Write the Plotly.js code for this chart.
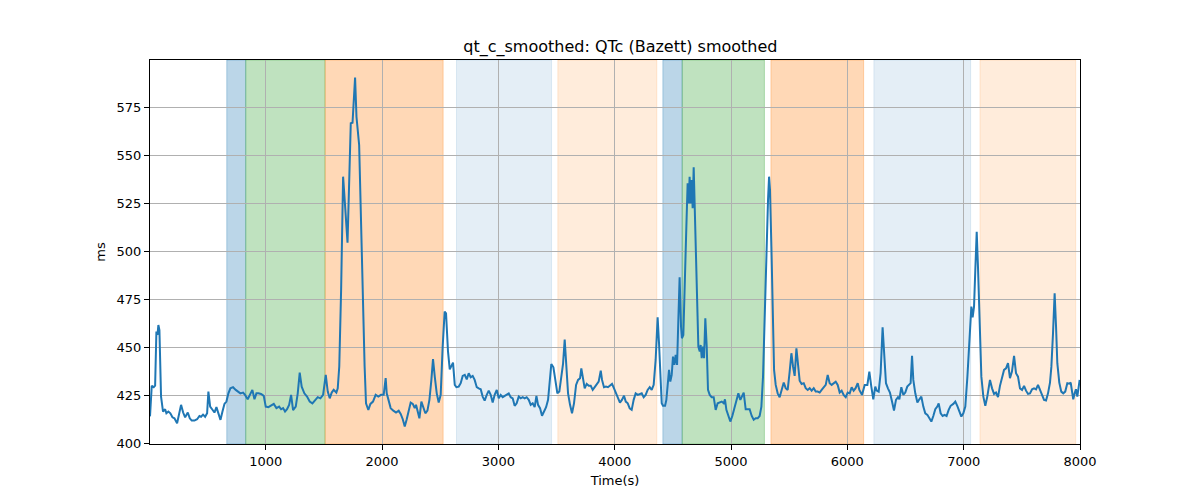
<!DOCTYPE html>
<html>
<head>
<meta charset="utf-8">
<script src="https://cdn.plot.ly/plotly-3.0.1.min.js"></script>
<style>html,body{margin:0;padding:0;background:#fff;}#chart{width:1200px;height:500px;}</style>
</head>
<body>
<div id="chart"></div>
<script>
// ---- data ----
const timeS = [5, 20, 37, 49, 60, 69, 77, 86, 100, 117, 135, 146, 163, 180, 198, 215, 238, 255, 272, 290, 307, 330, 347, 364, 387, 410, 430, 444, 461, 479, 496, 507, 522, 539, 559, 576, 593, 611, 628, 645, 662, 679, 696, 719, 742, 759, 782, 805, 822, 845, 862, 885, 903, 920, 937, 960, 983, 1000, 1023, 1046, 1069, 1092, 1115, 1132, 1149, 1166, 1183, 1201, 1218, 1235, 1258, 1275, 1292, 1309, 1332, 1355, 1378, 1401, 1424, 1447, 1470, 1493, 1516, 1533, 1550, 1567, 1584, 1607, 1619, 1632, 1648, 1665, 1684, 1703, 1731, 1746, 1768, 1780, 1803, 1823, 1837, 1850, 1862, 1882, 1900, 1922, 1945, 1968, 1991, 2014, 2031,
 2040, 2057, 2074, 2097, 2120, 2143, 2160, 2178, 2195, 2212, 2229, 2246, 2264, 2281, 2292, 2304, 2321, 2338, 2355, 2372, 2390, 2407, 2424, 2438, 2453, 2470, 2487, 2504, 2521, 2538, 2550, 2567, 2582, 2596, 2610, 2625, 2639, 2659, 2676, 2693, 2711, 2728, 2745, 2762, 2779, 2796, 2814, 2831, 2848, 2865, 2882, 2900, 2917, 2934, 2951, 2968, 2986, 3003, 3020, 3037, 3054, 3072, 3089, 3106, 3123, 3140, 3157, 3175, 3192, 3209, 3226, 3243, 3261, 3278, 3295, 3312, 3327, 3341, 3358, 3375, 3392, 3410, 3427, 3444, 3455, 3473, 3490, 3507, 3524, 3541, 3556, 3570, 3585, 3599, 3616, 3633, 3650, 3668, 3685, 3702, 3713, 3728, 3742, 3759, 3777, 3794, 3811, 3828, 3845, 3862, 3880, 3891, 3908, 3925, 3942, 3959, 3977, 3994, 4011, 4028, 4045, 4062, 4080,
 4095, 4112, 4129, 4146, 4163, 4180, 4198, 4215, 4232, 4249, 4266, 4283, 4301, 4318, 4335, 4352, 4369, 4381, 4392, 4404, 4415, 4433, 4444, 4455, 4467, 4478, 4490, 4501, 4513, 4524, 4536, 4547, 4558, 4570, 4578, 4590, 4602, 4616, 4627, 4636, 4644, 4653, 4662, 4670, 4679, 4688, 4696, 4708, 4719, 4731, 4739, 4748, 4759, 4768, 4779, 4791, 4802, 4817, 4834, 4851, 4868, 4885, 4903, 4920, 4937, 4948, 4960, 4977, 4994, 5011, 5029, 5046, 5063, 5080, 5095, 5109, 5126, 5143, 5160, 5178, 5195, 5212, 5229, 5246, 5261, 5275, 5289, 5304, 5318, 5327, 5335, 5347, 5358, 5370, 5384, 5401, 5418, 5436, 5453, 5470, 5487, 5504, 5519, 5533, 5547, 5562, 5576, 5590, 5607, 5625, 5642, 5659, 5676, 5693, 5711, 5728, 5745, 5762, 5779, 5797, 5814, 5831, 5848, 5865, 5882, 5900, 5917, 5934, 5951, 5968, 5986, 6003, 6020, 6037, 6054, 6071, 6089,
 6103, 6126, 6149, 6172, 6189, 6206, 6223, 6240, 6252, 6269, 6286, 6303, 6315, 6332, 6349, 6366, 6384, 6401, 6418, 6435, 6447, 6464, 6481, 6498, 6515, 6533, 6544, 6556, 6567, 6584, 6602, 6619, 6636, 6653, 6670, 6688, 6705, 6722, 6739, 6756, 6773, 6785, 6802, 6819, 6836, 6853, 6871, 6888, 6911, 6928, 6945, 6963, 6980, 6997, 7014, 7032, 7049, 7066, 7077, 7089, 7100, 7112, 7123, 7138, 7152, 7169, 7186, 7203, 7226, 7244, 7261, 7278, 7295, 7312, 7329, 7347, 7364, 7381, 7398, 7415, 7433, 7450, 7467, 7484, 7502, 7519, 7536, 7553, 7570, 7588, 7605, 7622, 7639, 7656, 7674, 7691, 7708, 7725, 7742, 7754, 7768, 7782, 7794, 7805, 7822, 7839, 7856, 7873, 7891, 7908, 7920, 7931, 7942, 7954, 7965, 7977, 7988, 7997];

const qtcMs = [414, 429.9, 429.2, 430, 458.2, 456.4, 461.6, 459, 424.3, 416.5, 417.7, 415.6, 416.5, 415.6, 413.5, 413, 410.4, 414.8, 420, 416, 413.5, 416, 413, 411.8, 411.8, 412.5, 414.2, 413.8, 414.9, 413.8, 415.6, 426.9, 419.1, 417.7, 416, 418.8, 415.6, 412.2, 416.5, 420.5, 421.7, 426, 428.6, 429.2, 427.8, 426.9, 426, 426.4, 425.2, 422.9, 425.2, 427.8, 422.9, 426, 426, 425.7, 424.7, 419.1, 418.8, 419.5, 420.5, 418.3, 419.1, 417.7, 418.3, 416.5, 417.7, 420, 425.2, 417.3, 419.1, 426, 436.8, 429.5, 426, 424.3, 421.7, 420.8, 422.6, 424, 423.4, 425.2, 435.6, 426.9, 423.4, 426.4, 427.8, 426.4, 428.6, 440, 480, 538.9, 522, 504.5, 566.7, 567, 590.6, 570.1, 555.4, 500.7, 474.6, 440, 420.8, 417.3, 420.5, 421.7, 425.2, 424.3, 425.2, 425.2, 433.9,
 426, 422.2, 418.3, 417, 416, 417, 415.3, 412.5, 408.7, 412.5, 416.5, 421.2, 420.5, 418.3, 420, 417.3, 413, 421.7, 418.3, 415.6, 417, 422.6, 433, 443.8, 434.7, 426, 421.2, 425.2, 450.3, 468.6, 467.7, 447.7, 438.5, 439.9, 442, 430.4, 429.2, 429.5, 431.3, 435.1, 435.6, 433.3, 436.5, 434.4, 435.1, 433, 429.2, 428.6, 428.1, 424.3, 422.2, 425.2, 427.4, 425.2, 421.2, 425.2, 427.8, 423.4, 425.2, 424, 424.7, 425.2, 426, 424, 423.4, 419.5, 420.8, 424.3, 423.4, 424, 423.4, 424, 422.6, 420, 420.8, 418.8, 424.7, 420, 418.3, 414.3, 416.5, 418.8, 422.6, 433, 441.3, 439.6, 433, 426, 426.9, 434.7, 441.5, 454, 439.9, 426, 420, 415.6, 420.8, 430.4, 433, 433.9, 439, 433, 428.6, 430.9, 429.9, 429.9, 427.8, 429.2, 430.4, 432.1, 437.8, 433, 429.2, 429.5, 429.2, 429.9, 430.9, 428.6, 426, 423.4, 421.2, 422.6, 424.7,
 421.7, 420.8, 418.2, 417.4, 422.6, 426, 425.2, 425.7, 426, 424, 425.2, 427.8, 429.2, 427.8, 430.4, 443.4, 465.6, 452.1, 433, 420.8, 419.5, 419.5, 422.6, 431.3, 438.2, 432.1, 435.6, 445.1, 440.8, 446, 440.8, 464.2, 486.5, 460.8, 454.7, 456.4, 478.1, 512.9, 535.4, 525, 538.9, 525, 537.2, 522.4, 543.8, 521.5, 499, 474.7, 450.4, 447.8, 451.2, 444.3, 450.4, 444.3, 465.1, 450.4, 427.8, 425.2, 424, 424, 417.4, 420.8, 421.2, 421.7, 420.8, 422.9, 417.4, 414.8, 411.3, 414.2, 418.2, 421.7, 426, 422.6, 424.3, 426.4, 417.7, 417.7, 417.7, 414.2, 412.2, 413, 413, 414.2, 419.1, 434.7, 464.2, 505.9, 526.7, 538.9, 532, 502.4, 467.7, 438.2, 430.4, 426, 424, 427.8, 431.6, 428.7, 427.8, 437.3, 446.9, 439.9, 435.1, 449.5, 439, 432.6, 430.9, 431.3, 428.7, 427.8, 428.7, 427.4, 428.7, 426.9, 426.9, 426.4, 427.8, 429.5, 430.4, 435.6, 431.3, 430.4, 431.3, 432.1, 430.4, 426.4, 427.4, 425.2, 424, 426.4, 426, 429.2, 427.4, 428.7, 431.3,
 427.8, 425.2, 430.4, 430.4, 437.3, 429.5, 422.9, 429.5, 427.4, 426.9, 436.5, 460.4, 446.9, 431.3, 428.6, 426.4, 421.7, 417, 422.6, 424, 422.9, 429.2, 425.2, 426.4, 429.5, 430.4, 431.3, 445.5, 433, 426, 421.2, 422.9, 424.3, 419.1, 415.6, 414.8, 413, 411.3, 414.2, 417.7, 419.1, 420.8, 415.6, 414.2, 414.8, 414.2, 417.4, 419.5, 420.5, 421.7, 419.5, 417, 413.9, 415.6, 419.1, 434.7, 453.8, 471.2, 465.6, 471.2, 490.3, 510.2, 492, 457.3, 434.7, 424.3, 419.5, 424.3, 433, 428.6, 425.7, 426.4, 424, 429.9, 433.9, 438.2, 439, 441.7, 433.9, 437.3, 445.5, 436.5, 434.7, 428.6, 427.8, 429.9, 427.4, 425.7, 426, 428.1, 428.6, 428.1, 430.4, 427.8, 424.3, 422.6, 422.3, 426, 431.6, 439.9, 457.3, 478.1, 460.8, 441.7, 431.6, 426.9, 426, 426.9, 431.3, 431, 431.6, 426, 422.9, 426, 428.1, 424.3, 429.5, 433];

// shaded segments
const segStart = [665, 828, 1510, 2640, 3511, 4414, 4580, 5343, 6228, 7140];
const segEnd   = [828, 1510, 2525, 3457, 4362, 4580, 5287, 6140, 7060, 7963];
const segKind  = ['A', 'B', 'C', 'D', 'E', 'A', 'B', 'C', 'D', 'E'];

const xTicks = [1000, 2000, 3000, 4000, 5000, 6000, 7000, 8000];
const yTicks = [400, 425, 450, 475, 500, 525, 550, 575];

// ---- styles ----
const kindFill = {
  A: 'rgba(31,119,180,0.3)',
  B: 'rgba(44,160,44,0.3)',
  C: 'rgba(255,127,14,0.3)',
  D: 'rgba(31,119,180,0.12)',
  E: 'rgba(255,127,14,0.15)'
};

const shapes = segStart.map((s, i) => ({
  type: 'rect', xref: 'x', yref: 'paper',
  x0: s, x1: segEnd[i], y0: 0, y1: 1,
  fillcolor: kindFill[segKind[i]],
  line: {color: kindFill[segKind[i]], width: 1},
  layer: 'below'
}));

const font = {family: 'DejaVu Sans, sans-serif', color: '#000'};

const trace = {
  x: timeS, y: qtcMs, type: 'scatter', mode: 'lines',
  line: {color: '#1f77b4', width: 2}, hoverinfo: 'skip', showlegend: false
};

const layout = {
  width: 1200, height: 500,
  margin: {l: 150, r: 120, t: 60, b: 56},
  paper_bgcolor: '#fff', plot_bgcolor: '#fff',
  font: Object.assign({size: 13}, font),
  title: {text: 'qt_c_smoothed: QTc (Bazett) smoothed', x: 0.517, xanchor: 'center',
          y: 0.908, yanchor: 'middle', yref: 'container', font: Object.assign({size: 16}, font)},
  xaxis: {
    range: [5, 8000], tickvals: xTicks, ticktext: xTicks.map(String),
    showgrid: true, gridcolor: '#b0b0b0', gridwidth: 1,
    showline: true, linecolor: '#000', linewidth: 1, mirror: true,
    ticks: 'outside', ticklen: 5, tickcolor: '#000', zeroline: false,
    tickfont: Object.assign({size: 13}, font),
    title: {text: 'Time(s)', standoff: 8, font: Object.assign({size: 13}, font)}
  },
  yaxis: {
    range: [399.6, 599.7], tickvals: yTicks, ticktext: yTicks.map(String),
    showgrid: true, gridcolor: '#b0b0b0', gridwidth: 1,
    showline: true, linecolor: '#000', linewidth: 1, mirror: true,
    ticks: 'outside', ticklen: 5, tickcolor: '#000', zeroline: false,
    tickfont: Object.assign({size: 13}, font),
    title: {text: 'ms', standoff: 8, font: Object.assign({size: 13}, font)}
  },
  shapes: shapes
};

Plotly.newPlot('chart', [trace], layout, {displayModeBar: false, staticPlot: true});
</script>
</body>
</html>
